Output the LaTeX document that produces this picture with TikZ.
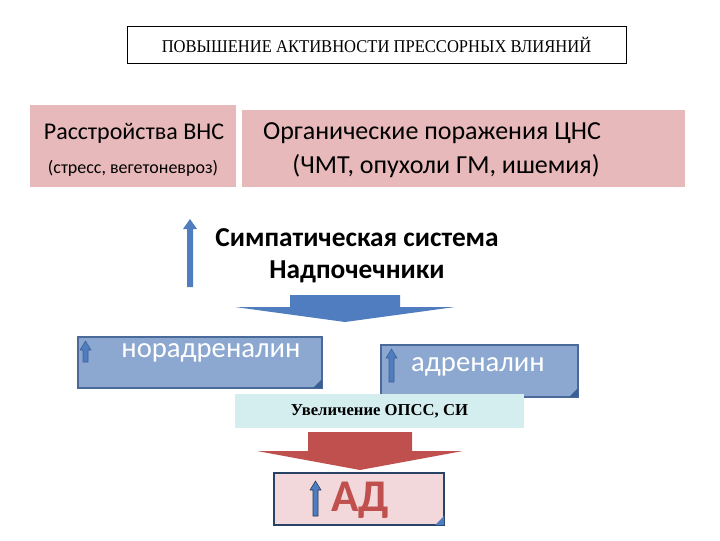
\documentclass[tikz,border=0pt]{standalone}
\usepackage{fontspec}
\setmainfont{Carlito}
\newfontfamily\serifr{Liberation Serif}
\begin{document}
\begin{tikzpicture}[x=0.75pt,y=-0.75pt,
  pinkbox/.style={fill=pinkc,draw=none},
  bluebox/.style={fill=bluec,draw=blueb,line width=1.2pt},
  lbl/.style={inner sep=0pt,anchor=center}]
\definecolor{pinkc}{HTML}{E8B9BA}
\definecolor{bluec}{HTML}{8DA8D0}
\definecolor{blueb}{HTML}{4A6A9A}
\definecolor{arrb}{HTML}{4F7DBF}
\definecolor{arrd}{HTML}{3A5F95}
\definecolor{cyanc}{HTML}{D4EDEF}
\definecolor{redc}{HTML}{C0504D}
\definecolor{adpink}{HTML}{F2D8DA}
\useasboundingbox (0,0) rectangle (720,540);
% top box
\node[draw=black,line width=0.6pt,minimum width=499*0.75pt,minimum height=37*0.75pt,font=\serifr\fontsize{13.5}{15}\selectfont] (top) at (376.5,44.5) {\scalebox{0.92}[1]{ПОВЫШЕНИЕ АКТИВНОСТИ ПРЕССОРНЫХ ВЛИЯНИЙ}};
% pink boxes
\node[pinkbox,minimum width=206*0.75pt,minimum height=82*0.75pt] (vns) at (133,146) {};
\node[lbl,font=\fontsize{18}{20}\selectfont] at (134,133) {Расстройства ВНС};
\node[lbl,font=\fontsize{13.5}{15}\selectfont] at (133,168) {(стресс, вегетоневроз)};
\node[pinkbox,minimum width=443*0.75pt,minimum height=77*0.75pt] (cns) at (463.5,148.5) {};
\node[lbl,font=\fontsize{19.5}{22}\selectfont] at (432,133) {Органические поражения ЦНС};
\node[lbl,font=\fontsize{19.5}{22}\selectfont] at (446,166) {(ЧМТ, опухоли ГМ, ишемия)};
% up arrow
\fill[arrb] (187,287) -- (187,229) -- (183,229) -- (190,219) -- (197,229) -- (193,229) -- (193,287) -- cycle;
\node[lbl,font=\fontsize{20.5}{24}\bfseries] (sym) at (357,238) {Симпатическая система};
\node[lbl,font=\fontsize{20.5}{24}\bfseries] (nad) at (357,272) {Надпочечники};
% blue down arrow
\fill[arrb] (290,295) -- (400,295) -- (400,307) -- (455,307) -- (345,322) -- (235,307) -- (290,307) -- cycle;
% nor box
\node[bluebox,minimum width=244*0.75pt,minimum height=51*0.75pt] (nor) at (200,362.5) {};
\fill[arrd] (313,388) -- (322,379) -- (322,388) -- cycle;
\fill[arrb,draw=arrd] (83,362) -- (83,350) -- (80,350) -- (85.5,341) -- (91,350) -- (88,350) -- (88,362) -- cycle;
\node[lbl,font=\fontsize{21.5}{24}\selectfont,text=white] at (211,353) {норадреналин};
% adr box
\node[bluebox,minimum width=197*0.75pt,minimum height=52*0.75pt] (adr) at (479.5,371) {};
\fill[arrd] (569,397) -- (578,388) -- (578,397) -- cycle;
\fill[arrb,draw=arrd] (389,382) -- (389,358) -- (386,358) -- (391.5,349) -- (397,358) -- (394,358) -- (394,382) -- cycle;
\node[lbl,font=\fontsize{21.5}{24}\selectfont,text=white] at (478,367) {адреналин};
% cyan box
\node[fill=cyanc,minimum width=289*0.75pt,minimum height=34*0.75pt,font=\serifr\fontsize{12.5}{14}\bfseries] (opss) at (379.5,411) {Увеличение ОПСС, СИ};
% red down arrow
\fill[redc] (308,432) -- (412,432) -- (412,451) -- (463,451) -- (360,470) -- (257,451) -- (308,451) -- cycle;
% AD box
\node[fill=adpink,draw=arrd!70!black,line width=1.2pt,minimum width=170*0.75pt,minimum height=52*0.75pt] (ad) at (359,499) {};
\fill[arrb] (435,525) -- (444,516) -- (444,525) -- cycle;
\fill[arrb,draw=arrd!60!black] (313,516) -- (313,490) -- (310,490) -- (315.5,481) -- (321,490) -- (318,490) -- (318,516) -- cycle;
\node[lbl,font=\fontsize{34}{38}\bfseries,text=redc] at (360,500) {АД};
\end{tikzpicture}
\end{document}
